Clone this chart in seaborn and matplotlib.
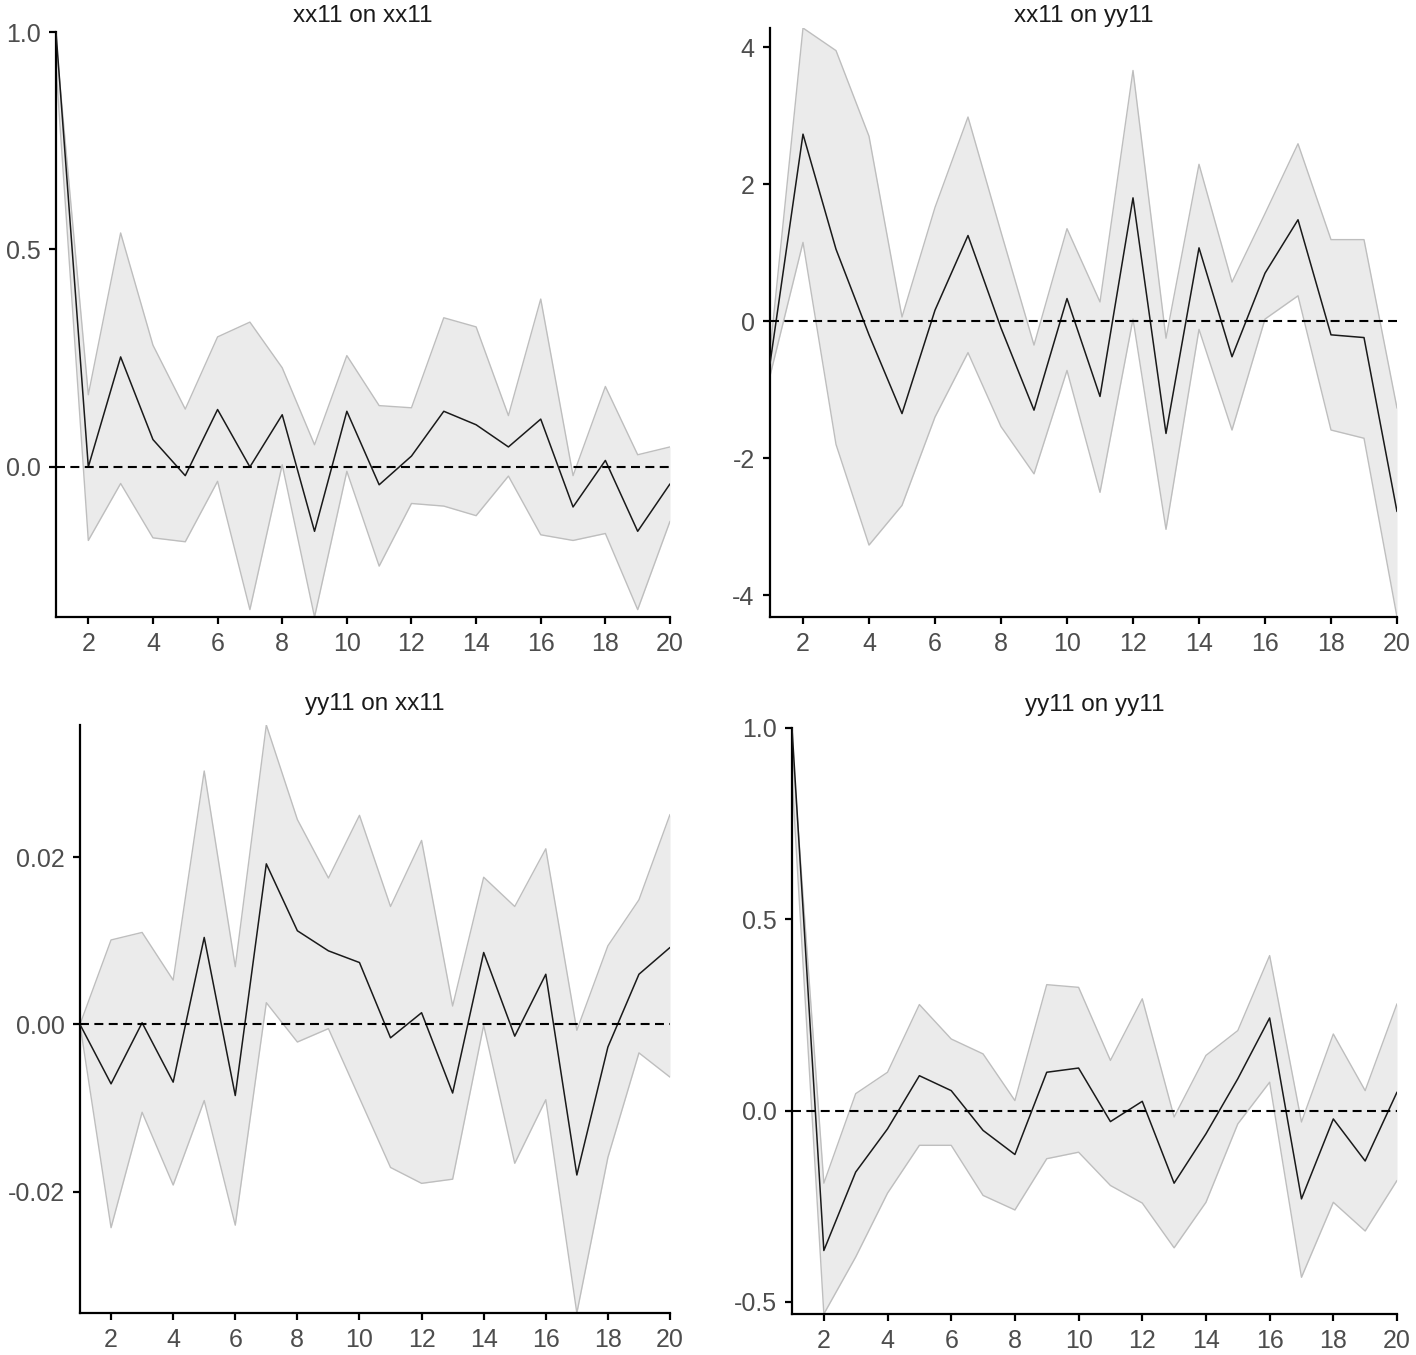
import numpy as np
import pandas as pd
import matplotlib
matplotlib.use("Agg")
import matplotlib.pyplot as plt
from matplotlib.ticker import FormatStrFormatter, FixedLocator
import seaborn as sns

# ---------------- data ----------------
horizon = list(range(1, 21))

titles = ["xx11 on xx11", "xx11 on yy11", "yy11 on xx11", "yy11 on yy11"]

irf_xx_xx = [1.0, 0.0, 0.253, 0.063, -0.020, 0.132, 0.0, 0.12, -0.148, 0.128,
             -0.041, 0.025, 0.128, 0.097, 0.046, 0.11, -0.092, 0.015, -0.148, -0.039]
upper_xx_xx = [0.98, 0.166, 0.538, 0.28, 0.133, 0.299, 0.333, 0.228, 0.051, 0.256,
               0.141, 0.136, 0.343, 0.322, 0.118, 0.386, -0.02, 0.185, 0.028, 0.046]
lower_xx_xx = [0.92, -0.169, -0.038, -0.163, -0.172, -0.033, -0.328, 0.005, -0.345, -0.01,
               -0.228, -0.084, -0.09, -0.112, -0.021, -0.156, -0.169, -0.153, -0.328, -0.125]

irf_xx_yy = [-0.62, 2.73, 1.05, -0.2, -1.35, 0.16, 1.25, -0.1, -1.3, 0.33,
             -1.1, 1.8, -1.64, 1.07, -0.52, 0.7, 1.48, -0.2, -0.24, -2.78]
upper_xx_yy = [-0.45, 4.28, 3.95, 2.7, 0.06, 1.66, 2.98, 1.3, -0.35, 1.35,
               0.28, 3.66, -0.25, 2.29, 0.57, 1.57, 2.59, 1.19, 1.19, -1.27]
lower_xx_yy = [-0.8, 1.15, -1.8, -3.27, -2.69, -1.4, -0.46, -1.54, -2.23, -0.72,
               -2.5, 0.03, -3.04, -0.12, -1.59, 0.03, 0.37, -1.59, -1.71, -4.32]

irf_yy_xx = [0.0, -0.0071, 0.0002, -0.0069, 0.0104, -0.0085, 0.0192, 0.0112, 0.0088, 0.0074,
             -0.0016, 0.0014, -0.0082, 0.0086, -0.0014, 0.006, -0.018, -0.0027, 0.006, 0.0092]
upper_yy_xx = [0.0, 0.0101, 0.011, 0.0053, 0.0303, 0.0069, 0.0358, 0.0245, 0.0175, 0.025,
               0.0141, 0.022, 0.0022, 0.0176, 0.0141, 0.021, -0.0007, 0.0094, 0.0149, 0.0251]
lower_yy_xx = [0.0, -0.0243, -0.0105, -0.0192, -0.0091, -0.024, 0.0026, -0.0021, -0.0005, -0.0088,
               -0.0171, -0.019, -0.0185, -0.0001, -0.0166, -0.009, -0.0345, -0.0159, -0.0034, -0.0063]

irf_yy_yy = [1.0, -0.366, -0.161, -0.048, 0.091, 0.052, -0.052, -0.115, 0.1, 0.111,
             -0.029, 0.024, -0.19, -0.061, 0.083, 0.242, -0.231, -0.022, -0.132, 0.048]
upper_yy_yy = [0.96, -0.19, 0.044, 0.1, 0.277, 0.187, 0.148, 0.026, 0.329, 0.322,
               0.131, 0.292, -0.017, 0.144, 0.209, 0.405, -0.03, 0.2, 0.052, 0.279]
lower_yy_yy = [0.87, -0.532, -0.383, -0.216, -0.091, -0.091, -0.222, -0.26, -0.126, -0.109,
               -0.196, -0.242, -0.359, -0.24, -0.035, 0.074, -0.436, -0.24, -0.315, -0.183]

x_ticks = [2, 4, 6, 8, 10, 12, 14, 16, 18, 20]
y_ticks = [[0.0, 0.5, 1.0], [-4, -2, 0, 2, 4], [-0.02, 0.0, 0.02], [-0.5, 0.0, 0.5, 1.0]]
y_formats = ["%.1f", "%d", "%.2f", "%.1f"]

# ---------------- style ----------------
sns.set_theme(style="ticks")
plt.rcParams["font.family"] = ["Liberation Sans", "DejaVu Sans"]
plt.rcParams["axes.unicode_minus"] = False

W, H = 1416, 1355
fig = plt.figure(figsize=(W / 100, H / 100), dpi=100)

# panel boxes in pixels: left, right, top, bottom
boxes = [(56, 670, 32, 617), (770, 1397, 28, 617), (80, 670, 725, 1313), (792, 1397, 728, 1314)]
title_baselines = [22, 22, 710, 711]

series = [
    (irf_xx_xx, upper_xx_xx, lower_xx_xx),
    (irf_xx_yy, upper_xx_yy, lower_xx_yy),
    (irf_yy_xx, upper_yy_xx, lower_yy_xx),
    (irf_yy_yy, upper_yy_yy, lower_yy_yy),
]

for i, (irf, up, lo) in enumerate(series):
    l, r, t, b = boxes[i]
    ax = fig.add_axes([l / W, 1 - b / H, (r - l) / W, (b - t) / H])
    df = pd.DataFrame({"h": horizon, "irf": irf, "upper": up, "lower": lo})
    ax.fill_between(df["h"], df["lower"], df["upper"], color="#EBEBEB", lw=0, zorder=1)
    sns.lineplot(data=df, x="h", y="upper", ax=ax, color="#BEBEBE", lw=1.0, zorder=2)
    sns.lineplot(data=df, x="h", y="lower", ax=ax, color="#BEBEBE", lw=1.0, zorder=2)
    sns.lineplot(data=df, x="h", y="irf", ax=ax, color="#1A1A1A", lw=1.1, zorder=3)
    ax.axhline(0, color="black", lw=1.5, ls=(0, (4.3, 2.6)), zorder=4)

    ymin = min(min(lo), min(irf), min(up))
    ymax = max(max(up), max(irf), max(lo))
    ax.set_xlim(1, 20)
    ax.set_ylim(ymin, ymax)
    ax.xaxis.set_major_locator(FixedLocator(x_ticks))
    ax.yaxis.set_major_locator(FixedLocator(y_ticks[i]))
    ax.yaxis.set_major_formatter(FormatStrFormatter(y_formats[i]))
    ax.set_xlabel("")
    ax.set_ylabel("")
    for s in ["top", "right"]:
        ax.spines[s].set_visible(False)
    for s in ["left", "bottom"]:
        ax.spines[s].set_linewidth(1.6)
        ax.spines[s].set_color("black")
    ax.tick_params(axis="both", direction="out", length=5, width=1.6, color="black",
                   labelsize=18, labelcolor="#4D4D4D", pad=6)
    fig.text((l + r) / 2 / W, 1 - title_baselines[i] / H, titles[i], ha="center",
             va="baseline", fontsize=17.5, color="#1A1A1A")

fig.savefig("out.png", dpi=100)
